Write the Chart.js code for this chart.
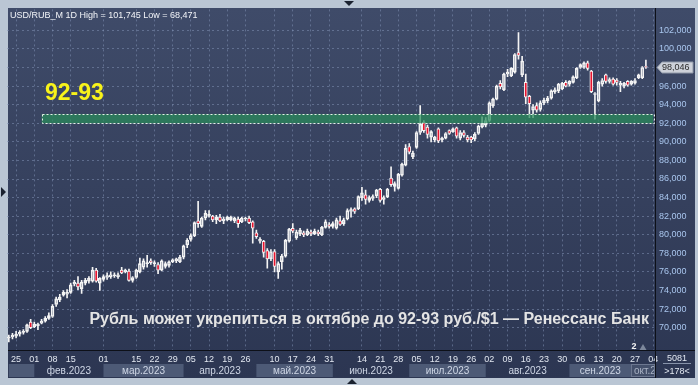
<!DOCTYPE html>
<html>
<head>
<meta charset="utf-8">
<title>USD/RUB_M 1D</title>
<script src="https://cdn.jsdelivr.net/npm/chart.js@4.4.0/dist/chart.umd.min.js"></script>
<style>
  html, body { margin: 0; padding: 0; background: #bac6d4; }
  canvas { display: block; }
</style>
</head>
<body>
<canvas id="chart" width="698" height="385"></canvas>
<script>
'use strict';

// Торговые дни 2023 года по месяцам (янв .. окт)
const DAYS = [
  [23,24,25,26,27,30,31],
  [1,2,3,6,7,8,9,10,13,14,15,16,17,20,21,22,24,27,28],
  [1,2,3,6,7,9,10,13,14,15,16,17,20,21,22,23,24,27,28,29,30,31],
  [3,4,5,6,7,10,11,12,13,14,17,18,19,20,21,24,25,26,27,28],
  [2,3,4,5,8,10,11,12,15,16,17,18,19,22,23,24,25,26,29,30,31],
  [1,2,5,6,7,8,9,13,14,15,16,19,20,21,22,23,26,27,28,29,30],
  [3,4,5,6,7,10,11,12,13,14,17,18,19,20,21,24,25,26,27,28,31],
  [1,2,3,4,7,8,9,10,11,14,15,16,17,18,21,22,23,24,25,28,29,30,31],
  [1,4,5,6,7,8,11,12,13,14,15,18,19,20,21,22,25,26,27,28,29],
  [2,3,4],
];
const MONTHS = ['янв','фев','мар','апр','май','июн','июл','авг','сен','окт'];

// Подписи дат на оси X (ММ-ДД)
const TICK_DATES = [
  '01-25','02-01','02-08','02-15','03-01','03-15','03-22','03-29',
  '04-05','04-12','04-19','04-26','05-10','05-17','05-24','05-31',
  '06-14','06-21','06-28','07-05','07-12','07-19','07-26',
  '08-02','08-09','08-16','08-23','08-30','09-06','09-13','09-20','09-27','10-04',
];
// Подписи шкалы Y
const Y_TICKS = [70,72,74,76,78,80,82,84,86,88,90,92,94,96,98,100,102];

// Свечи USD/RUB (open / high / low / close)
const OPEN = [
  68.9,69.0,69.1,69.3,69.5,69.6,70.6,70.1,70.2,70.5,
  70.7,71.0,71.2,72.5,73.0,73.5,73.6,73.8,74.7,74.8,
  74.2,74.8,75.0,75.0,76.2,74.8,75.2,75.4,75.5,75.6,
  75.5,76.2,76.0,76.1,75.1,75.4,76.0,76.5,76.9,77.2,
  76.9,76.8,76.2,76.6,76.7,77.1,77.2,77.1,77.6,78.9,
  79.5,79.9,81.5,80.9,81.8,82.0,82.0,81.6,81.9,81.5,
  81.6,81.6,81.5,81.7,81.4,81.7,81.8,81.4,80.2,79.3,
  79.3,78.3,77.4,78.2,76.0,77.1,77.7,79.3,80.7,79.7,
  80.1,80.2,80.0,80.3,80.1,80.3,80.0,80.8,81.1,80.9,
  80.7,81.5,81.2,81.7,82.5,82.8,82.8,84.0,84.3,83.7,
  83.9,84.2,84.9,83.8,84.1,86.1,85.2,85.0,86.4,87.5,
  89.5,88.4,89.4,91.0,92.1,91.6,90.5,90.2,91.4,90.2,
  90.4,91.2,91.1,91.5,90.4,91.0,90.5,90.5,90.3,90.9,
  91.6,91.8,92.3,93.9,94.6,96.3,95.6,97.3,97.1,97.5,
  99.6,97.2,96.4,94.9,93.4,93.9,93.5,94.2,94.4,94.7,
  95.4,95.5,95.7,96.4,96.2,96.4,96.9,98.0,98.0,98.5,
  97.6,95.1,94.4,96.2,97.2,96.5,96.75,96.65,96.1,96.0,
  96.5,96.2,96.3,96.9,96.9,98.1,
];
const HIGH = [
  69.2,69.4,69.6,69.7,69.8,70.4,70.9,70.6,70.5,70.9,
  71.2,71.6,72.5,73.3,73.6,74.0,74.1,74.8,75.1,75.5,
  75.1,75.3,75.5,76.5,76.4,75.4,75.7,75.9,76.0,75.9,
  75.9,76.5,76.3,76.3,75.5,76.3,77.5,77.4,77.8,77.4,
  77.2,77.0,77.3,77.1,77.2,77.4,77.5,77.8,78.9,79.6,
  80.1,81.4,83.6,81.9,82.6,82.6,82.1,82.1,82.2,81.9,
  82.0,82.0,81.9,81.9,81.9,81.9,82.0,81.5,80.5,79.7,
  79.4,78.5,78.4,78.4,77.1,77.9,79.5,80.7,81.2,80.5,
  80.7,80.4,80.6,80.5,80.6,80.5,80.9,81.6,81.3,81.4,
  81.8,82.0,81.8,82.8,82.9,82.9,84.2,85.1,84.8,84.2,
  84.3,84.9,85.0,84.2,85.0,87.3,85.7,86.6,87.7,89.7,
  89.8,89.0,91.1,93.9,92.3,91.8,91.2,90.6,91.5,90.5,
  91.0,91.3,91.5,91.6,91.2,91.2,90.7,90.6,91.0,91.8,
  92.7,92.6,94.3,94.7,96.1,96.6,97.4,97.8,98.0,99.5,
  101.745,99.2,97.3,95.0,94.0,94.2,94.4,94.7,94.9,95.6,
  95.8,96.3,96.4,96.6,96.6,97.1,98.0,98.4,98.6,98.7,
  97.7,95.3,96.5,96.8,97.3,96.9,96.9,96.8,96.5,96.4,
  96.6,96.6,96.8,97.3,98.1,98.8,
];
const LOW = [
  68.471,68.8,68.9,69.1,69.3,69.5,69.9,70.0,69.8,70.4,
  70.6,70.9,71.1,72.3,72.8,73.4,73.2,73.7,74.5,74.1,
  73.7,74.6,74.8,74.9,74.9,74.0,75.0,75.2,75.3,75.4,
  75.3,75.8,75.9,75.0,74.9,75.3,75.9,76.3,76.5,76.8,
  76.6,75.8,76.1,76.4,76.5,77.0,77.0,77.0,77.4,78.6,
  79.3,79.8,80.8,80.8,81.6,81.9,81.4,81.2,81.4,81.2,
  81.5,81.5,81.3,80.8,81.3,81.5,81.2,79.1,79.6,79.1,
  77.6,76.4,77.2,76.0,75.3,76.3,77.6,79.2,80.2,79.5,
  79.9,79.8,79.9,79.9,80.0,79.9,79.9,80.7,80.7,80.7,
  80.6,81.0,81.0,81.6,81.9,82.3,82.7,83.7,83.3,83.5,
  83.7,84.0,83.5,83.3,84.0,85.2,84.7,84.9,86.3,87.4,
  88.7,88.2,89.3,90.8,91.0,90.4,90.0,90.0,89.9,90.0,
  90.3,90.8,91.0,90.4,90.2,90.5,90.0,89.9,90.1,90.8,
  91.5,91.6,92.2,93.7,94.5,95.7,95.5,97.0,97.0,97.4,
  98.9,97.0,94.1,92.6,92.6,93.2,93.3,94.0,94.2,94.6,
  95.2,95.3,95.6,95.9,96.0,96.3,96.8,97.9,97.9,97.7,
  95.3,92.45,94.3,96.0,96.3,96.3,96.1,96.1,95.4,95.8,
  96.0,96.1,96.2,96.8,96.8,97.9,
];
const CLOSE = [
  69.0,69.2,69.3,69.5,69.6,70.3,70.0,70.4,70.4,70.7,
  71.0,71.3,72.3,73.1,73.3,73.8,73.8,74.6,74.9,74.4,
  74.9,75.1,75.3,76.2,75.0,75.3,75.5,75.6,75.7,75.7,
  75.7,75.9,76.2,75.1,75.4,76.2,76.9,77.2,77.0,77.0,
  77.0,76.2,77.2,76.9,77.1,77.3,77.4,77.6,78.8,79.4,
  79.9,81.3,81.2,81.8,82.3,82.2,81.6,81.9,81.5,81.7,
  81.9,81.9,81.8,81.2,81.8,81.8,81.3,80.7,79.8,79.5,
  78.1,77.4,78.2,76.6,76.9,77.7,79.4,80.6,80.4,80.3,
  80.5,80.0,80.4,80.1,80.4,80.1,80.8,81.4,80.9,81.2,
  81.6,81.1,81.6,82.6,82.7,82.5,84.1,84.5,83.8,84.0,
  84.1,84.8,83.7,84.0,84.9,85.4,85.5,86.5,87.6,89.3,
  88.9,88.8,91.0,91.9,91.2,90.8,91.1,90.5,90.1,90.4,
  90.9,90.9,91.4,90.6,91.0,90.7,90.2,90.2,90.8,91.7,
  92.0,92.3,94.2,94.6,96.0,95.9,97.3,97.5,97.9,99.4,
  99.3,98.7,94.8,94.1,93.8,93.4,94.2,94.5,94.7,95.5,
  95.6,96.2,96.3,96.0,96.5,97.0,97.9,98.3,98.5,97.9,
  95.4,95.2,96.4,96.6,96.5,96.7,96.2,96.4,96.3,96.3,
  96.1,96.5,96.6,97.2,98.0,98.046,
];

// Зона прогноза 92-93
const ZONE = [92, 93];
const ZONE_FROM = '02-03';

const FONT = "'Liberation Sans', Arial, sans-serif";
const RED = '#e8142e';
const WICK = '#f4f4f4';
const GRID = 'rgba(128,144,178,0.55)';

const pad = (n) => String(n).padStart(2, '0');

// Категории
const labels = [];
const monthFirst = [];
DAYS.forEach((days, m) => {
  monthFirst.push(labels.length);
  days.forEach((d) => labels.push(pad(m + 1) + '-' + pad(d)));
});
const tickText = {};
TICK_DATES.forEach((t) => { tickText[labels.indexOf(t)] = t.slice(3); });

const bodies = OPEN.map((o, i) => [Math.min(o, CLOSE[i]), Math.max(o, CLOSE[i])]);
const upper = OPEN.map((o, i) => [Math.max(o, CLOSE[i]), HIGH[i]]);
const lower = OPEN.map((o, i) => [LOW[i], Math.min(o, CLOSE[i])]);
const isDown = OPEN.map((o, i) => CLOSE[i] < o);

const fmt = (v) => v.toFixed(3).replace('.', ',');

function tri(c, pts, color) {
  c.beginPath();
  c.moveTo(pts[0], pts[1]);
  c.lineTo(pts[2], pts[3]);
  c.lineTo(pts[4], pts[5]);
  c.closePath();
  c.fillStyle = color;
  c.fill();
}

// Фон панели и полосы месяцев
const panelPlugin = {
  id: 'panel',
  beforeDraw(chart) {
    const c = chart.ctx;
    const xs = chart.scales.x;
    const right = chart.chartArea.right;
    c.save();
    c.fillStyle = '#bac6d4';
    c.fillRect(0, 0, chart.width, chart.height);
    const g = c.createLinearGradient(0, 8, 0, 378);
    g.addColorStop(0, '#3f4b69');
    g.addColorStop(1, '#2c3652');
    c.fillStyle = g;
    c.fillRect(8, 8, 687, 370);

    const last = monthFirst.length - 1;
    const boxL = right - 24;
    monthFirst.forEach((first, m) => {
      if (m === last) return;
      if (m % 2 !== 0) return;
      const x0 = xs.getPixelForValue(first);
      const x1 = Math.min(xs.getPixelForValue(monthFirst[m + 1]), boxL);
      c.fillStyle = '#4d5a76';
      c.fillRect(x0, 364, x1 - x0, 13);
    });
    c.fillStyle = '#44506b';
    c.fillRect(boxL, 364, 24, 13);
    c.strokeStyle = '#6c7790';
    c.lineWidth = 1;
    c.strokeRect(Math.round(boxL) + 0.5, 364.5, 23, 12);
    c.restore();
  },
};

const overlayPlugin = {
  id: 'overlay',
  afterDatasetsDraw(chart) {
    const c = chart.ctx;
    const xs = chart.scales.x, ys = chart.scales.y;
    const x0 = xs.getPixelForValue(labels.indexOf(ZONE_FROM));
    const x1 = xs.getPixelForValue(labels.length - 1);
    const yT = ys.getPixelForValue(ZONE[1]);
    const yB = ys.getPixelForValue(ZONE[0]);
    c.save();
    c.fillStyle = 'rgba(40,140,90,0.72)';
    c.fillRect(x0, yT, x1 - x0, yB - yT);
    c.setLineDash([2, 2]);
    c.strokeStyle = '#e6efe8';
    c.lineWidth = 1;
    c.strokeRect(Math.round(x0) + 0.5, Math.round(yT) + 0.5, Math.round(x1 - x0), Math.round(yB - yT));
    c.restore();
  },
  afterDraw(chart) {
    const c = chart.ctx;
    const xs = chart.scales.x, ys = chart.scales.y;
    const area = chart.chartArea;
    c.save();

    // рамки области графика
    c.strokeStyle = '#0d1018';
    c.lineWidth = 1;
    c.beginPath();
    c.moveTo(Math.round(area.right) + 0.5, 8);
    c.lineTo(Math.round(area.right) + 0.5, 378);
    c.moveTo(8, Math.round(area.bottom) + 0.5);
    c.lineTo(695, Math.round(area.bottom) + 0.5);
    c.stroke();

    // заголовок
    c.font = '9px ' + FONT;
    c.fillStyle = '#f2f4f8';
    c.textAlign = 'left';
    c.textBaseline = 'alphabetic';
    c.fillText('USD/RUB_M 1D High = ' + fmt(Math.max(...HIGH)) + ' Low = ' + fmt(Math.min(...LOW)), 10, 18);

    // метка зоны
    c.font = 'bold 23px ' + FONT;
    c.fillStyle = '#f8f31a';
    c.fillText(ZONE[0] + '-' + ZONE[1], 45, 100);

    // подпись
    c.font = 'bold 16px ' + FONT;
    c.fillStyle = '#e4e4e4';
    c.textAlign = 'right';
    c.fillText('Рубль может укрепиться в октябре до 92-93 руб./$1 — Ренессанс Банк', 649, 324);

    // месяцы
    c.font = '10px ' + FONT;
    c.fillStyle = '#cfd7e6';
    c.textAlign = 'center';
    const last = monthFirst.length - 1;
    const boxL = area.right - 24;
    monthFirst.forEach((first, m) => {
      if (m === last) return;
      const a = xs.getPixelForValue(first);
      const b = Math.min(xs.getPixelForValue(monthFirst[m + 1]), boxL);
      const txt = MONTHS[m] + '.2023';
      if (b - a > c.measureText(txt).width + 4) c.fillText(txt, (a + b) / 2, 374);
    });
    c.save();
    c.beginPath();
    c.rect(boxL + 1, 364, 22, 13);
    c.clip();
    c.fillStyle = '#a9b2c4';
    c.textAlign = 'left';
    c.fillText(MONTHS[last] + '.2023', boxL + 3, 374);
    c.restore();

    // текущая цена
    const lastClose = CLOSE[CLOSE.length - 1];
    const py = Math.round(ys.getPixelForValue(lastClose)) + 0.5;
    const bx = area.right + 2;
    c.beginPath();
    c.moveTo(bx, py);
    c.lineTo(bx + 5, py - 5.5);
    c.lineTo(693, py - 5.5);
    c.lineTo(693, py + 5.5);
    c.lineTo(bx + 5, py + 5.5);
    c.closePath();
    c.fillStyle = '#cdd1d9';
    c.fill();
    c.strokeStyle = '#8f98a8';
    c.stroke();
    c.font = '9px ' + FONT;
    c.fillStyle = '#2b2b2b';
    c.textAlign = 'left';
    c.textBaseline = 'middle';
    c.fillText(fmt(lastClose), bx + 5, py + 0.5);

    // правый нижний угол
    c.textAlign = 'center';
    c.textBaseline = 'alphabetic';
    c.fillStyle = '#e2e8f2';
    c.fillText('5081', 677, 361);
    c.fillText('>' + labels.length + '<', 677, 373.5);
    c.strokeStyle = '#8793aa';
    c.beginPath();
    c.moveTo(663, 363.5);
    c.lineTo(691, 363.5);
    c.stroke();

    // маркер новостей
    c.font = 'bold 9px ' + FONT;
    c.fillStyle = '#f0f0f0';
    c.fillText('2', 634, 349);
    tri(c, [639.5, 350, 646.5, 350, 643, 344], '#7c879b');

    // стрелки на рамке
    tri(c, [344, 1, 354, 1, 349, 6], '#1b2230');
    tri(c, [1, 187, 1, 197, 6, 192], '#1b2230');
    tri(c, [347, 384, 357, 384, 352, 379], '#1b2230');
    c.restore();
  },
};

const ctx = document.getElementById('chart').getContext('2d');

new Chart(ctx, {
  type: 'bar',
  data: {
    labels: labels,
    datasets: [
      {
        label: 'upper',
        data: upper,
        backgroundColor: WICK,
        barThickness: 1,
        grouped: false,
        order: 3,
      },
      {
        label: 'lower',
        data: lower,
        backgroundColor: WICK,
        barThickness: 1,
        grouped: false,
        order: 2,
      },
      {
        label: 'body',
        data: bodies,
        backgroundColor: (c) => (isDown[c.dataIndex] ? RED : 'rgba(0,0,0,0)'),
        borderColor: WICK,
        borderWidth: 1,
        borderSkipped: false,
        barThickness: 3,
        grouped: false,
        order: 1,
      },
    ],
  },
  options: {
    responsive: false,
    animation: false,
    layout: { padding: { left: 7, top: 8, right: 3, bottom: 7 } },
    plugins: {
      legend: { display: false },
      tooltip: { enabled: false },
    },
    scales: {
      x: {
        offset: true,
        grid: {
          offset: false,
          drawTicks: false,
          color: (c) => (tickText[c.index] ? GRID : 'rgba(0,0,0,0)'),
        },
        border: { display: false, dash: [2, 3] },
        ticks: {
          autoSkip: false,
          maxRotation: 0,
          padding: 4,
          color: '#e2e7f0',
          font: { family: FONT, size: 9 },
          callback: (v, i) => tickText[i] || '',
        },
        afterFit: (s) => { s.height = 28; },
      },
      y: {
        position: 'right',
        min: 67.6,
        max: 104.25,
        afterBuildTicks: (s) => { s.ticks = Y_TICKS.map((v) => ({ value: v })); },
        grid: { color: GRID, drawTicks: false },
        border: { display: false, dash: [2, 3] },
        ticks: {
          padding: 4,
          color: '#a9c6ee',
          font: { family: FONT, size: 9 },
          callback: (v) => fmt(v),
        },
        afterFit: (s) => { s.width = 40; },
      },
    },
  },
  plugins: [panelPlugin, overlayPlugin],
});
</script>
</body>
</html>
